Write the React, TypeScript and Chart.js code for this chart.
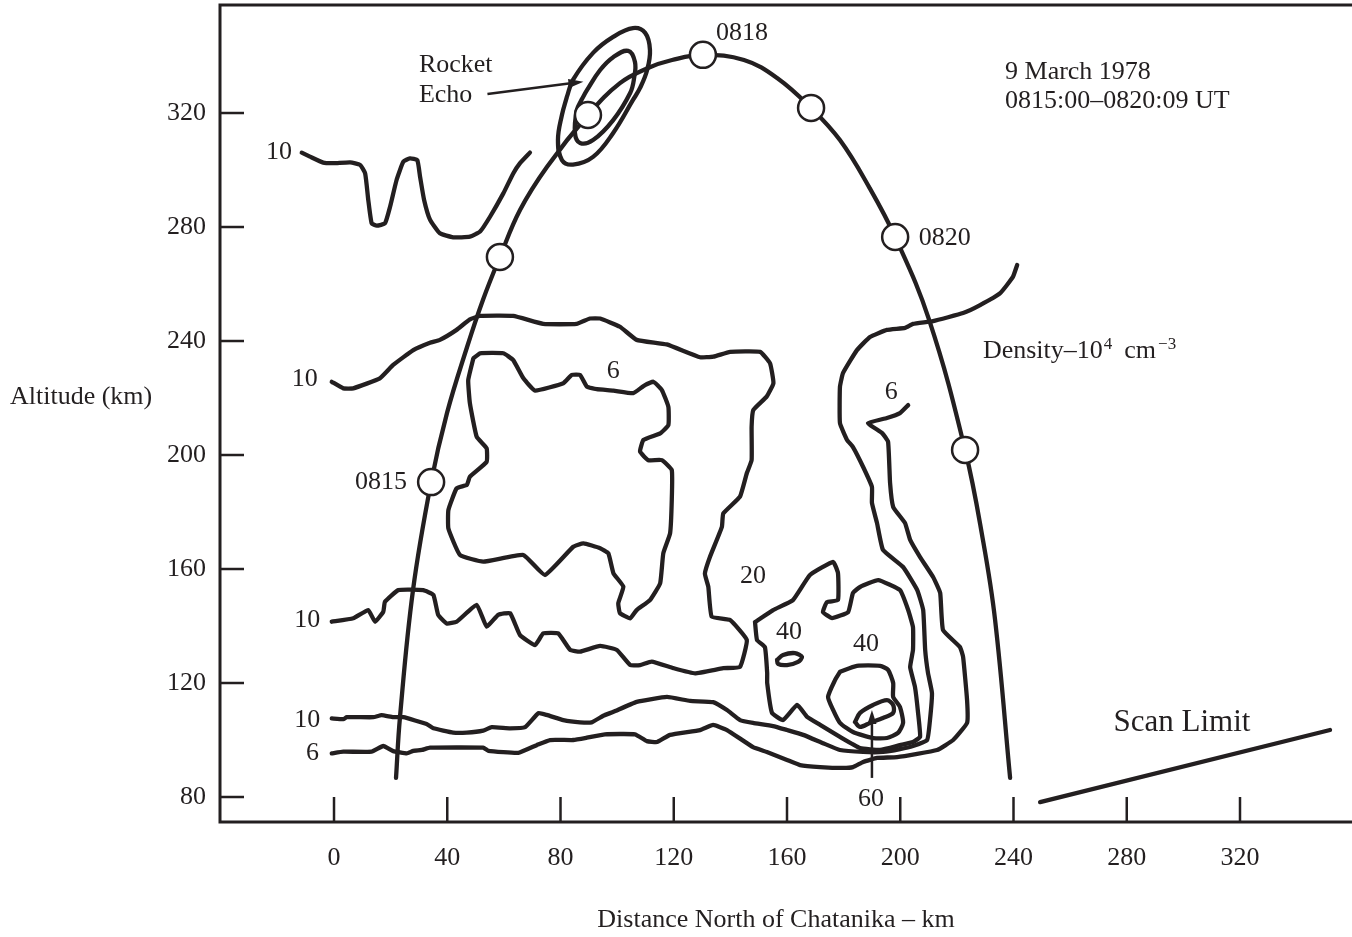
import { useEffect, useRef } from "react";
import { Chart, registerables } from "chart.js";

Chart.register(...registerables);

const INK = "#231f20";
const SERIF = "'Liberation Serif', 'DejaVu Serif', serif";

// axis ranges (km)
const X_MIN = -40.27;
const X_MAX = 359.56;
const Y_MIN = 71.23;
const Y_MAX = 357.9;

const xTicks = [0, 40, 80, 120, 160, 200, 240, 280, 320];
const yTicks = [80, 120, 160, 200, 240, 280, 320];

type P = [number, number];

// rocket trajectory (distance km, altitude km)
const trajectory: P[] = [
  [21.9, 86.7], [23.3, 108.0], [27.9, 152.6], [34.3, 190.5], [39.9, 214.7], [47.0, 237.9],
  [52.6, 254.4], [58.6, 269.5], [65.7, 286.0], [75.2, 301.1], [89.7, 319.3], [101.0, 330.5],
  [110.9, 335.8], [119.4, 338.6], [130.3, 340.4], [144.8, 338.6], [156.5, 332.3], [168.5, 321.8],
  [178.7, 310.5], [189.0, 294.0], [198.2, 276.5], [210.2, 247.4], [222.9, 201.8], [229.2, 170.2],
  [233.5, 142.1], [238.8, 86.7],
];

// one-minute markers on the trajectory
const markers: P[] = [
  [34.3, 190.5], [58.6, 269.5], [89.7, 319.3], [130.3, 340.4], [168.5, 321.8], [198.2, 276.5], [222.9, 201.8],
];

// rocket echo ellipses
const echoOuter: P[] = [
  [82.2, 325.5], [84.4, 331.6], [91.5, 341.1], [98.6, 346.7], [105.6, 349.8], [109.9, 348.1], [111.6, 342.1],
  [110.6, 335.1], [108.1, 328.8], [105.6, 324.6], [98.6, 313.0], [91.5, 304.6], [84.4, 301.9], [80.5, 303.5],
  [79.1, 310.5], [80.5, 319.3], [82.2, 325.5],
];
const echoInner: P[] = [
  [87.4, 324.6], [89.4, 328.1], [94.0, 335.1], [98.6, 339.6], [103.9, 341.8], [106.3, 337.9], [106.0, 332.3],
  [104.6, 327.0], [98.6, 317.5], [91.5, 310.5], [86.9, 309.5], [85.1, 313.0], [85.8, 321.1], [87.4, 324.6],
];

// density contours (10^4 cm^-3)
const c10Top: P[] = [
  [-11.4, 306.1], [-8.5, 304.7], [-3.8, 302.6], [-0.2, 302.4], [5.7, 302.7], [9.2, 301.8], [11.0, 298.8],
  [12.1, 289.5], [13.3, 281.3], [15.1, 280.5], [18.0, 281.3], [19.8, 287.1], [22.1, 296.5], [24.5, 302.9],
  [26.8, 304.1], [29.4, 303.5], [30.4, 297.6], [31.8, 289.6], [33.9, 282.6], [37.4, 277.8], [42.1, 276.4],
  [48.0, 276.6], [51.6, 278.4], [55.1, 283.6], [59.8, 291.8], [63.3, 298.8], [65.7, 302.4], [69.2, 306.1],
];

const c10Upper: P[] = [
  [-0.8, 225.7], [3.3, 223.4], [6.8, 223.4], [16.2, 226.9], [20.9, 231.6], [28.0, 236.8], [33.9, 239.4],
  [37.4, 240.4], [43.3, 243.9], [48.0, 247.6], [51.6, 248.8], [63.3, 248.8], [73.9, 246.0], [85.7, 246.0],
  [90.4, 247.9], [94.0, 247.9], [101.0, 245.0], [106.9, 240.4], [117.5, 238.8], [129.3, 234.3], [134.0, 234.5],
  [139.9, 236.2], [150.5, 236.2], [154.0, 232.2], [155.2, 225.2], [152.8, 220.5], [148.1, 215.8], [147.5, 209.9],
  [147.5, 198.2], [145.8, 193.6], [143.4, 185.4], [137.5, 179.5], [137.0, 174.8], [132.8, 164.3], [131.0, 158.4],
  [132.2, 153.8], [133.4, 143.3], [139.9, 142.1], [145.8, 135.1], [143.4, 125.7], [137.5, 125.2], [127.5, 123.4],
  [119.9, 125.2], [112.2, 127.5], [108.1, 126.3], [104.6, 126.3], [99.9, 131.6], [94.0, 133.0], [86.9, 131.0],
  [83.4, 131.6], [79.2, 137.4], [73.9, 137.4], [71.0, 133.3], [65.7, 136.8], [62.2, 144.5], [58.0, 143.9],
  [53.9, 139.8], [50.4, 147.4], [43.3, 141.5], [39.8, 140.9], [36.8, 143.9], [35.1, 150.9], [31.5, 152.6],
  [22.7, 152.6], [18.0, 148.5], [17.4, 145.0], [14.5, 141.5], [12.1, 145.6], [6.8, 142.7], [-0.8, 141.5],
];

const c6Inner: P[] = [
  [49.2, 233.9], [51.6, 235.7], [59.8, 235.7], [63.3, 233.3], [66.9, 226.9], [71.0, 222.6], [81.0, 225.2],
  [84.0, 228.1], [86.9, 228.1], [89.3, 224.0], [92.8, 223.1], [98.7, 222.6], [105.7, 221.7], [109.3, 224.2],
  [112.8, 225.7], [115.8, 222.8], [118.1, 216.9], [118.1, 210.5], [115.2, 207.6], [109.3, 205.3], [108.1, 201.2],
  [111.0, 198.2], [115.8, 198.2], [119.3, 194.7], [119.3, 184.2], [118.7, 172.5], [116.3, 165.5], [115.2, 155.0],
  [111.6, 149.1], [106.9, 145.6], [104.6, 142.7], [101.0, 144.5], [100.4, 148.0], [102.2, 153.8], [98.7, 158.5],
  [96.9, 165.5], [94.0, 167.3], [88.1, 169.0], [84.5, 167.8], [74.5, 157.9], [66.9, 164.9], [52.7, 162.6],
  [44.5, 164.9], [40.4, 174.2], [40.4, 180.7], [43.3, 188.3], [46.9, 189.5], [48.0, 192.4], [53.9, 197.6],
  [53.9, 202.4], [50.4, 206.4], [48.0, 218.1], [47.4, 226.3], [49.2, 233.9],
];

const c10Bottom: P[] = [
  [-0.8, 107.6], [3.3, 107.3], [4.5, 108.0], [13.9, 108.0], [16.8, 108.7], [20.9, 108.0], [24.5, 108.0],
  [32.7, 105.6], [35.1, 104.1], [42.1, 102.6], [46.9, 102.6], [52.7, 103.3], [55.7, 104.5], [62.2, 104.1],
  [67.5, 104.5], [72.2, 109.4], [75.1, 108.8], [81.0, 107.0], [86.9, 106.2], [91.0, 106.2], [95.1, 108.5],
  [98.7, 109.9], [106.9, 113.4], [117.6, 115.1], [125.8, 113.7], [133.9, 113.3], [138.8, 110.5], [143.4, 107.0],
  [148.0, 106.0], [155.1, 104.9], [160.0, 103.5], [165.7, 101.8], [172.7, 98.9], [178.7, 96.5], [186.9, 95.8],
  [193.9, 95.8], [199.9, 96.8], [204.5, 97.9], [209.5, 100.0], [210.5, 107.0], [211.2, 116.5], [209.8, 123.5],
  [208.8, 131.6], [208.1, 145.6], [206.0, 152.6], [201.0, 160.7], [193.9, 166.7], [191.8, 176.1], [190.0, 183.2],
  [190.0, 188.8], [186.9, 195.8], [183.3, 202.8], [181.2, 205.3], [178.7, 211.2], [178.7, 223.9], [179.8, 228.8],
  [184.7, 236.8], [189.3, 241.4], [195.3, 243.9], [201.7, 244.6], [204.5, 246.0], [211.6, 247.0], [222.2, 249.8],
  [228.2, 252.6], [235.3, 256.8], [239.8, 262.5], [241.3, 266.7],
];

const c6Bottom: P[] = [
  [-0.8, 95.3], [3.3, 95.9], [13.3, 95.9], [17.4, 97.9], [20.9, 96.1], [25.7, 95.3], [28.0, 96.2],
  [31.0, 96.5], [33.9, 97.3], [52.7, 97.3], [54.5, 96.2], [65.1, 95.5], [71.6, 98.2], [76.3, 100.0],
  [84.5, 100.0], [89.3, 100.8], [95.7, 102.0], [106.3, 102.0], [110.5, 99.6], [114.1, 99.3], [118.7, 101.8],
  [129.3, 103.5], [133.9, 105.3], [138.8, 103.5], [148.0, 97.5], [152.9, 95.8], [160.0, 93.0], [164.6, 91.2],
  [171.7, 90.5], [179.8, 90.2], [183.3, 90.5], [186.9, 92.3], [191.8, 93.7], [198.9, 94.0], [213.0, 96.5],
  [218.7, 100.0], [223.6, 106.0], [223.6, 114.0], [222.2, 129.1], [221.1, 132.6], [215.1, 138.6], [214.1, 151.6],
  [211.6, 157.2], [207.0, 164.2], [203.5, 170.2], [201.7, 176.1], [197.5, 181.8], [196.4, 190.2], [195.7, 204.6],
  [193.6, 207.7], [188.6, 211.2], [195.3, 213.0], [199.9, 214.7], [202.8, 217.5],
];

const c20: P[] = [
  [148.7, 141.4], [155.1, 145.6], [162.1, 149.1], [168.1, 157.9], [176.3, 162.5], [178.0, 158.6], [178.0, 149.1],
  [174.1, 148.4], [172.7, 144.9], [175.9, 142.8], [181.6, 144.9], [183.3, 151.6], [185.8, 153.7], [192.2, 156.1],
  [199.9, 152.6], [202.8, 145.6], [204.5, 139.6], [204.5, 131.6], [203.5, 125.6], [205.2, 118.6], [206.3, 109.5],
  [207.0, 101.1], [204.5, 99.3], [199.9, 98.2], [192.9, 96.5], [185.8, 97.2], [178.7, 101.1], [171.7, 105.3],
  [167.1, 108.1], [163.6, 112.3], [158.6, 107.0], [154.7, 109.5], [153.0, 120.0], [153.0, 123.5], [152.2, 132.6],
  [149.4, 135.1], [148.7, 141.4],
];

const c40Ring: P[] = [
  [178.7, 123.9], [184.7, 126.0], [192.9, 126.0], [195.7, 124.6], [197.5, 120.0], [197.5, 115.1], [199.9, 111.6],
  [201.0, 106.0], [199.2, 102.5], [195.3, 100.7], [190.4, 100.7], [183.3, 102.8], [178.7, 106.0], [176.3, 110.5],
  [174.5, 115.1], [177.0, 121.1], [178.7, 123.9],
];

const c40Small: P[] = [
  [156.5, 128.1], [158.6, 129.8], [162.8, 130.5], [165.3, 129.1], [163.9, 127.4], [160.0, 126.3], [156.8, 126.7], [156.5, 128.1],
];

const c60: P[] = [
  [184.0, 106.3], [185.8, 109.5], [190.4, 112.3], [195.3, 114.0], [197.5, 112.3], [197.5, 109.5], [193.9, 107.7],
  [189.3, 106.0], [185.8, 104.6], [184.0, 106.3],
];

const scanLimit: P[] = [[249.4, 78.2], [351.8, 103.5]];

// arrows: [tail, tip]
const echoArrow: P[] = [[54.2, 326.7], [88.1, 331.0]];
const peakArrow: P[] = [[190.0, 86.7], [190.0, 110.5]];

// text annotations
const notes: { t: string; x: number; y: number; a: CanvasTextAlign }[] = [
  { t: "Rocket", x: 30.0, y: 336.8, a: "left" },
  { t: "Echo", x: 30.0, y: 326.3, a: "left" },
  { t: "0818", x: 134.9, y: 348.1, a: "left" },
  { t: "9 March 1978", x: 237.0, y: 334.4, a: "left" },
  { t: "0815:00\u20130820:09 UT", x: 237.0, y: 324.2, a: "left" },
  { t: "0820", x: 206.5, y: 276.2, a: "left" },
  { t: "10", x: -14.8, y: 306.3, a: "right" },
  { t: "10", x: -5.7, y: 226.7, a: "right" },
  { t: "6", x: 98.6, y: 229.5, a: "center" },
  { t: "6", x: 196.8, y: 222.1, a: "center" },
  { t: "0815", x: 25.8, y: 190.5, a: "right" },
  { t: "20", x: 148.0, y: 157.5, a: "center" },
  { t: "10", x: -4.9, y: 142.1, a: "right" },
  { t: "40", x: 160.7, y: 137.9, a: "center" },
  { t: "40", x: 187.9, y: 133.7, a: "center" },
  { t: "10", x: -4.9, y: 107.0, a: "right" },
  { t: "6", x: -5.3, y: 95.4, a: "right" },
  { t: "60", x: 189.7, y: 79.3, a: "center" },
];
const densityNote = { x: 229.2, y: 237.2 };
const scanNote = { t: "Scan Limit", x: 299.5, y: 106.1 };

const toXY = (pts: P[]) => pts.map(([x, y]) => ({ x, y }));

const lineSet = (pts: P[], tension = 0.12, width = 4.3) => ({
  data: toXY(pts),
  showLine: true,
  borderColor: INK,
  borderWidth: width,
  borderJoinStyle: "round" as const,
  borderCapStyle: "round" as const,
  tension,
  pointRadius: 0,
  fill: false,
  order: 2,
});

const decor = {
  id: "decor",
  afterDraw(chart: any) {
    const { ctx, chartArea: a, scales } = chart;
    const sx = scales.x;
    const sy = scales.y;
    const px = (v: number) => sx.getPixelForValue(v);
    const py = (v: number) => sy.getPixelForValue(v);
    ctx.save();
    ctx.strokeStyle = INK;
    ctx.fillStyle = INK;
    ctx.lineCap = "butt";

    // frame
    ctx.lineWidth = 3;
    ctx.beginPath();
    ctx.moveTo(a.right + 2, a.top);
    ctx.lineTo(a.left, a.top);
    ctx.lineTo(a.left, a.bottom);
    ctx.lineTo(a.right + 2, a.bottom);
    ctx.stroke();

    // ticks
    ctx.lineWidth = 2.5;
    yTicks.forEach((v) => {
      ctx.beginPath();
      ctx.moveTo(a.left, py(v));
      ctx.lineTo(a.left + 24, py(v));
      ctx.stroke();
    });
    xTicks.forEach((v) => {
      ctx.beginPath();
      ctx.moveTo(px(v), a.bottom);
      ctx.lineTo(px(v), a.bottom - 25);
      ctx.stroke();
    });

    // tick labels
    ctx.font = `26px ${SERIF}`;
    ctx.textBaseline = "middle";
    ctx.textAlign = "right";
    yTicks.forEach((v) => ctx.fillText(String(v), a.left - 14, py(v)));
    ctx.textAlign = "center";
    xTicks.forEach((v) => ctx.fillText(String(v), px(v), a.bottom + 36));

    // axis titles
    ctx.textAlign = "left";
    ctx.fillText("Altitude (km)", 10, 397);
    ctx.textAlign = "center";
    ctx.fillText("Distance North of Chatanika \u2013 km", 776, 920);

    // annotations
    notes.forEach((n) => {
      ctx.textAlign = n.a;
      ctx.fillText(n.t, px(n.x), py(n.y));
    });

    // density label with superscripts
    {
      const x0 = px(densityNote.x);
      const base = py(densityNote.y) + 8.8;
      ctx.textBaseline = "alphabetic";
      ctx.textAlign = "left";
      ctx.font = `26px ${SERIF}`;
      const s1 = "Density\u201310";
      ctx.fillText(s1, x0, base);
      let cx = x0 + ctx.measureText(s1).width + 1;
      ctx.font = `17px ${SERIF}`;
      ctx.fillText("4", cx, base - 9);
      cx += ctx.measureText("4").width + 12;
      ctx.font = `26px ${SERIF}`;
      ctx.fillText("cm", cx, base);
      cx += ctx.measureText("cm").width + 2;
      ctx.font = `17px ${SERIF}`;
      ctx.fillText("\u22123", cx, base - 9);
    }

    // scan limit label
    ctx.font = `31px ${SERIF}`;
    ctx.textBaseline = "middle";
    ctx.textAlign = "center";
    ctx.fillText(scanNote.t, px(scanNote.x), py(scanNote.y));

    // arrows
    const arrow = (seg: P[], len: number, half: number) => {
      const x1 = px(seg[0][0]);
      const y1 = py(seg[0][1]);
      const x2 = px(seg[1][0]);
      const y2 = py(seg[1][1]);
      const d = Math.hypot(x2 - x1, y2 - y1);
      const ux = (x2 - x1) / d;
      const uy = (y2 - y1) / d;
      ctx.lineWidth = 2.5;
      ctx.beginPath();
      ctx.moveTo(x1, y1);
      ctx.lineTo(x2 - ux * len * 0.6, y2 - uy * len * 0.6);
      ctx.stroke();
      const bx = x2 - ux * len;
      const by = y2 - uy * len;
      ctx.beginPath();
      ctx.moveTo(x2, y2);
      ctx.lineTo(bx - uy * half, by + ux * half);
      ctx.lineTo(bx + uy * half, by - ux * half);
      ctx.closePath();
      ctx.fill();
    };
    arrow(echoArrow, 15, 4.5);
    arrow(peakArrow, 14, 4.5);

    ctx.restore();
  },
};

export default function App() {
  const ref = useRef<HTMLCanvasElement>(null);

  useEffect(() => {
    if (!ref.current) return;
    const chart = new Chart(ref.current, {
      type: "scatter",
      data: {
        datasets: [
          {
            data: toXY(markers),
            showLine: false,
            pointRadius: 13,
            pointBackgroundColor: "#ffffff",
            pointBorderColor: INK,
            pointBorderWidth: 2.5,
            order: 0,
          } as any,
          lineSet(trajectory, 0.4),
          lineSet(echoOuter, 0.4),
          lineSet(echoInner, 0.4),
          lineSet(c10Top, 0.15),
          lineSet(c10Upper),
          lineSet(c6Inner),
          lineSet(c10Bottom),
          lineSet(c6Bottom),
          lineSet(c20),
          lineSet(c40Ring, 0.2),
          lineSet(c40Small, 0.3),
          lineSet(c60, 0.3),
          lineSet(scanLimit, 0),
        ],
      },
      options: {
        animation: false,
        responsive: false,
        maintainAspectRatio: false,
        events: [],
        layout: { autoPadding: false, padding: { left: 220, top: 5, right: 0, bottom: 115 } },
        plugins: {
          legend: { display: false },
          tooltip: { enabled: false },
          title: { display: false },
        },
        scales: {
          x: { type: "linear", min: X_MIN, max: X_MAX, display: false },
          y: { type: "linear", min: Y_MIN, max: Y_MAX, display: false },
        },
      },
      plugins: [decor],
    });
    return () => chart.destroy();
  }, []);

  return (
    <div style={{ position: "absolute", left: 0, top: 0, width: 1352, height: 937, background: "#ffffff" }}>
      <canvas ref={ref} width={1352} height={937} style={{ display: "block", width: 1352, height: 937 }} />
    </div>
  );
}
